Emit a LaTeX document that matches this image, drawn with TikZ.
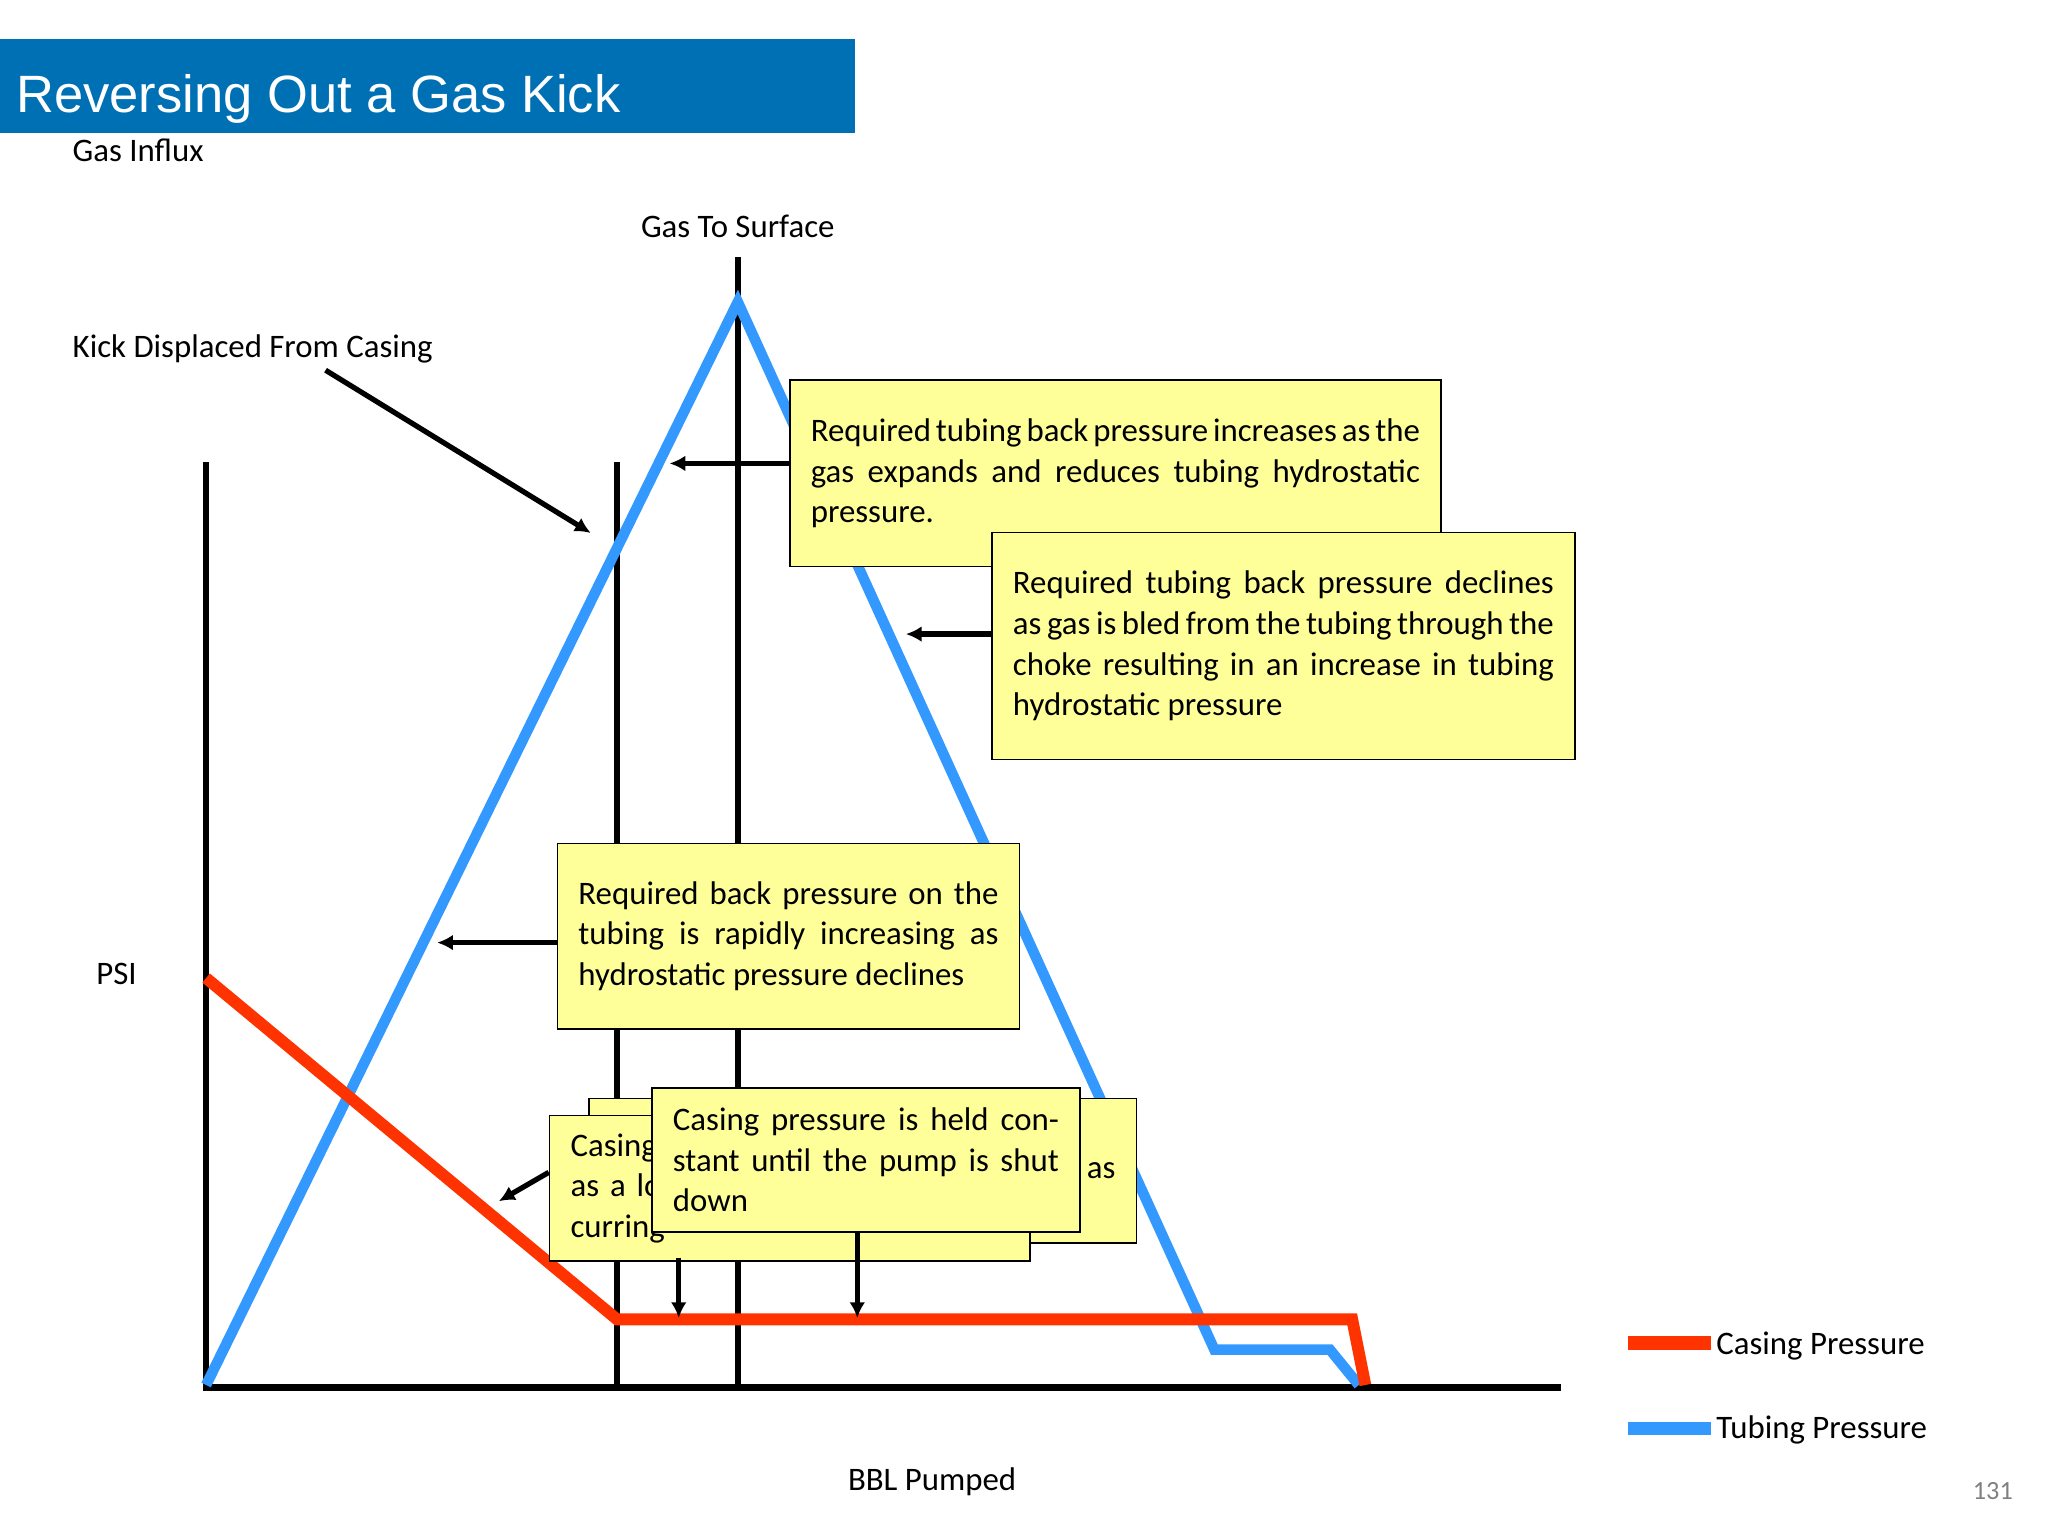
\documentclass[tikz,border=0pt]{standalone}
\usepackage{fontspec}
\setmainfont{Carlito}
\newfontfamily\titlefont{Liberation Sans}
\usetikzlibrary{arrows.meta}
\definecolor{titleblue}{HTML}{0070B4}
\definecolor{boxyellow}{HTML}{FFFF99}
\definecolor{casred}{HTML}{FF3300}
\definecolor{tubblue}{HTML}{3399FF}
\begin{document}
\begin{tikzpicture}[x=0.5pt,y=-0.5pt,
  lbl/.style={font=\fontsize{12.5}{15.5}\selectfont,inner sep=0},
  note/.style={draw=black,line width=0.6pt,fill=boxyellow,anchor=north west,align=justify,inner xsep=8pt,inner ysep=6pt,font=\fontsize{12.5}{15.5}\selectfont},
  axis/.style={line width=2.5pt},
  arr/.style={line width=2pt,-{Latex[length=6pt,width=6pt]}},
  cas/.style={casred,line width=4.5pt,line join=miter},
  tub/.style={tubblue,line width=4pt,line join=miter}]
\useasboundingbox (0,0) rectangle (1560,1170);
\fill[titleblue] (0,30) rectangle (651,101);
\node[anchor=base west,text=white,font=\titlefont\fontsize{20}{24}\selectfont,inner sep=0] (title) at (12,86) {Reversing Out a Gas Kick};
\node[lbl,anchor=base west] (gi) at (55,123) {Gas Influx};
\node[lbl,anchor=base] (gts) at (562,181) {Gas To Surface};
\node[lbl,anchor=base west] (kd) at (55,272) {Kick Displaced From Casing};
\node[lbl,anchor=base west] (psi) at (73,750) {PSI};
\node[lbl,anchor=base] (bbl) at (710,1135) {BBL Pumped};
\node[anchor=base,text=gray,font=\fontsize{10}{12}\selectfont,inner sep=0] (pg) at (1518,1142) {131};
% axes
\coordinate (o) at (157,1057);
\coordinate (ytop) at (157,352);
\coordinate (xend) at (1189,1057);
\draw[axis] (ytop) -- (o) -- (xend);
\coordinate (v1t) at (470,352); \coordinate (v1b) at (470,1057);
\coordinate (v2t) at (562,196); \coordinate (v2b) at (562,1057);
\draw[axis] (v1t) -- (v1b);
\draw[axis] (v2t) -- (v2b);
% curves
\draw[tub] (157,1055) -- (562,230) -- (925,1028) -- (1013,1028) -- (1035,1055);
\draw[cas] (157,745) -- (470,1005) -- (1030,1005) -- (1040,1055);
% kick arrow
\coordinate (ka) at (248,282); \coordinate (kb) at (450,406);
\draw[arr] (ka) -- (kb);
% box 1
\node[note,text width=232pt,minimum height=71pt] (b1) at (601,289) {Required tubing back pressure increases as the gas expands and reduces tubing hydrostatic pressure.};
\coordinate (a1) at (510,353);
\draw[arr] (b1.west |- a1) -- (a1);
% box 2
\node[note,text width=206pt,minimum height=86.5pt] (b2) at (755,405) {Required tubing back pressure declines as gas is bled from the tubing through the choke resulting in an increase in tubing hydrostatic pressure};
\coordinate (a2) at (690,483);
\draw[arr] (b2.west |- a2) -- (a2);
% box 3
\node[note,text width=160pt,minimum height=70.5pt] (b3) at (424,642) {Required back pressure on the tubing is rapidly increasing as hydrostatic pressure declines};
\coordinate (a3) at (333,718);
\draw[arr] (b3.west |- a3) -- (a3);
% lower arrows
\coordinate (a4s) at (418,893); \coordinate (a4) at (380,915);
\draw[arr] (a4s) -- (a4);
\coordinate (a5s) at (517,958); \coordinate (a5) at (517,1004);
\coordinate (a6s) at (653,938); \coordinate (a6) at (653,1004);
% back box
\node[note,text width=192.5pt,minimum height=55pt,align=right] (b4) at (448,836) {\vphantom{Cg}as};
% middle box
\node[note,text width=167pt,minimum height=55.5pt,align=left] (b5) at (418,849) {Casing pressure is held constant as a loss in hydrostatics is occurring};
\draw[arr] (a5s) -- (a5);
\draw[arr] (a6s) -- (a6);
% front box
\node[note,text width=147pt,minimum height=55pt] (b6) at (496,828) {Casing pressure is held constant until the pump is shut down};
% legend
\coordinate (l1a) at (1240,1023); \coordinate (l1b) at (1303,1023);
\draw[casred,line width=5pt] (l1a) -- (l1b);
\node[lbl,anchor=west] (lc) at (1307,1025) {Casing Pressure};
\coordinate (l2a) at (1240,1088); \coordinate (l2b) at (1303,1088);
\draw[tubblue,line width=5pt] (l2a) -- (l2b);
\node[lbl,anchor=west] (lt) at (1307,1089) {Tubing Pressure};
\end{tikzpicture}
\end{document}
